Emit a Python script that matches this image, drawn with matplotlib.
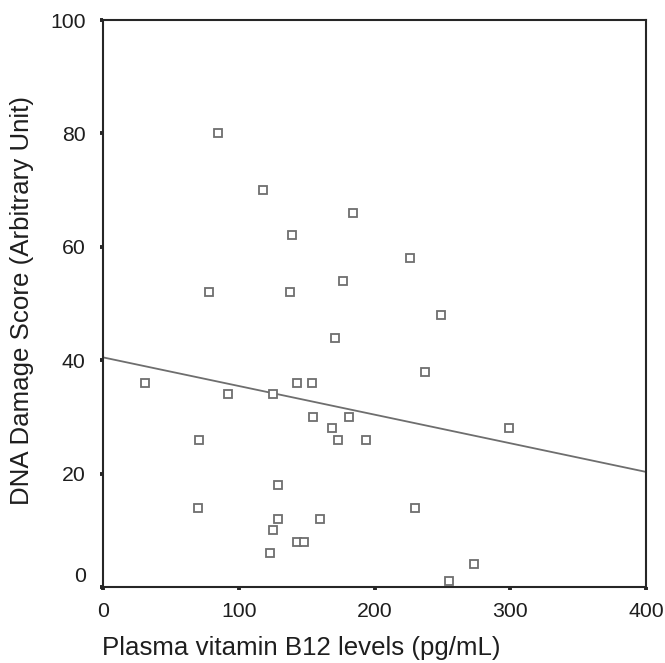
import numpy as np
import matplotlib
matplotlib.use("Agg")
import matplotlib.pyplot as plt
from matplotlib.transforms import ScaledTranslation

plt.rcParams['font.family'] = ['Liberation Sans', 'DejaVu Sans']

# Plasma B12 (pg/mL) vs DNA damage score
b12 = [85, 118, 139, 78, 138, 184, 226, 177, 249, 171, 237, 31, 92, 125,
       143, 154, 155, 181, 169, 173, 194, 299, 71, 129, 70, 129, 160, 125,
       143, 148, 123, 230, 273, 255]
damage = [80, 70, 62, 52, 52, 66, 58, 54, 48, 44, 38, 36, 34, 34,
          36, 36, 30, 30, 28, 26, 26, 28, 26, 18, 14, 12, 12, 10,
          8, 8, 6, 14, 4, 1]

# fit line end points
fit_x = [0, 400]
fit_y = [40.5, 20.3]

xticks = [0, 100, 200, 300, 400]
yticks = [0, 20, 40, 60, 80, 100]

fig = plt.figure(figsize=(6.65, 6.63), dpi=100)
ax = fig.add_axes([103/665, 1 - 587/663, 543/665, 567/663])

ax.plot(fit_x, fit_y, color='#6e6e6e', lw=1.3, zorder=2)
ax.plot(b12, damage, ls='none', marker='s', ms=6.3, mfc='white',
        mec='#6e6e6e', mew=1.3, zorder=3)

ax.set_xlim(0, 400)
ax.set_ylim(0, 100)
ax.set_xticks(xticks)
ax.set_yticks(yticks)

for s in ax.spines.values():
    s.set_color('#262626')
    s.set_linewidth(1.5)

ax.tick_params(axis='both', direction='out', length=2.5, width=2.8,
               color='#262626', labelsize=15.3, labelcolor='#1e1e1e')
ax.tick_params(axis='x', pad=8)
ax.tick_params(axis='y', pad=10)

# SPSS style: the "0" label on y sits a bit above the axis
lab0 = ax.get_yticklabels()[0]
lab0.set_transform(lab0.get_transform() + ScaledTranslation(0, 0.12, fig.dpi_scale_trans))

ax.set_xlabel('Plasma vitamin B12 levels (pg/mL)', fontsize=18.6, color='#1e1e1e', va='center')
ax.set_ylabel('DNA Damage Score (Arbitrary Unit)', fontsize=18.6, color='#1e1e1e', va='center')
ax.xaxis.set_label_coords(0.365, -0.108)
ax.yaxis.set_label_coords(-0.149, 0.506)

fig.savefig('out.png', dpi=100)
